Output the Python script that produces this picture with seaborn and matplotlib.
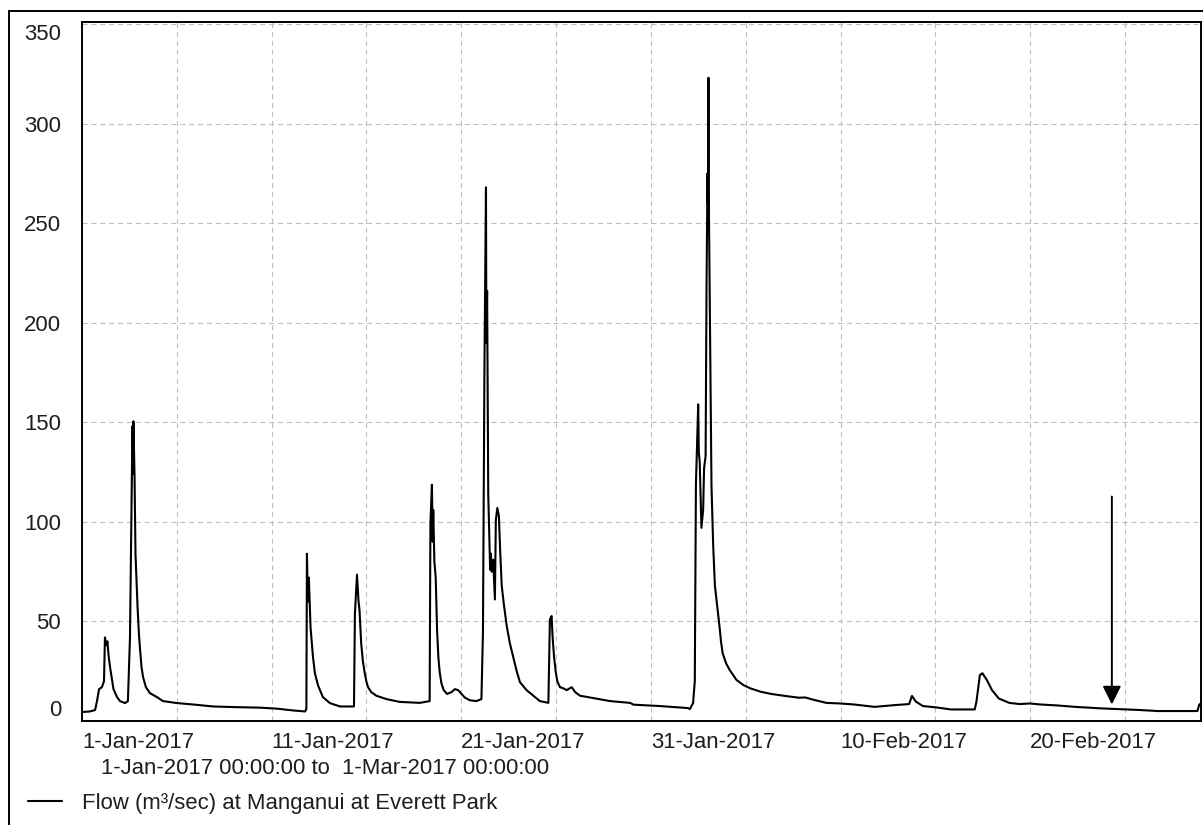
import matplotlib
matplotlib.use("Agg")
import matplotlib.pyplot as plt
import pandas as pd
import seaborn as sns

# ----------------------------
# data (read off the hydrograph)
# ----------------------------
start_date = "2017-01-01 00:00"
end_date = "2017-03-01 00:00"

# days since 1-Jan-2017 00:00
days = [
    0.00, 0.42, 0.69, 0.79, 0.90, 1.05, 1.16, 1.21, 1.29, 1.34, 1.40, 1.48,
    1.58, 1.66, 1.85, 2.00, 2.27, 2.42, 2.53, 2.66, 2.69, 2.71, 2.77, 2.82,
    2.93, 3.00, 3.06, 3.14, 3.22, 3.37, 3.58, 3.95, 4.27, 5.01, 5.85, 6.91,
    7.96, 9.38, 10.28, 11.12, 11.76, 11.83, 11.86, 11.91, 11.96, 12.05, 12.18,
    12.28, 12.44, 12.70, 13.07, 13.60, 14.34, 14.39, 14.50, 14.58, 14.63,
    14.72, 14.81, 14.90, 14.99, 15.08, 15.25, 15.52, 16.05, 16.75, 17.81,
    18.33, 18.37, 18.45, 18.49, 18.52, 18.58, 18.65, 18.72, 18.79, 18.86,
    18.95, 19.07, 19.25, 19.48, 19.66, 19.83, 20.01, 20.18, 20.45, 20.80,
    21.06, 21.14, 21.22, 21.30, 21.32, 21.36, 21.42, 21.48, 21.52, 21.56,
    21.60, 21.68, 21.77, 21.82, 21.90, 21.98, 22.05, 22.13, 22.25, 22.39,
    22.56, 22.74, 22.92, 23.09, 23.44, 23.80, 24.14, 24.59, 24.67, 24.76,
    24.81, 24.89, 24.98, 25.06, 25.20, 25.38, 25.56, 25.82, 26.00, 26.26,
    26.96, 27.84, 28.90, 29.08, 30.47, 31.94, 32.05, 32.22, 32.31, 32.37,
    32.49, 32.52, 32.57, 32.66, 32.75, 32.80, 32.88, 32.93, 32.98, 33.00,
    33.03, 33.06, 33.14, 33.19, 33.28, 33.37, 33.51, 33.63, 33.69, 33.78,
    33.96, 34.15, 34.51, 34.88, 35.24, 35.78, 36.33, 37.06, 37.79, 38.15,
    38.51, 39.25, 39.97, 40.70, 41.79, 42.88, 43.61, 43.76, 43.97, 44.34,
    45.07, 45.80, 47.07, 47.16, 47.34, 47.47, 47.71, 47.98, 48.34, 48.89,
    49.44, 49.98, 50.53, 51.44, 52.35, 53.81, 55.81, 56.72, 58.81, 58.90,
    58.99,
]

# flow, m3/sec
flow = [
    4.5, 4.8, 5.5, 10, 16, 17, 20, 42, 38, 40, 33, 27,
    21, 16, 12, 10, 9, 10, 42, 148, 124, 150.5, 123, 84,
    57, 44, 36, 27, 22, 17, 14, 12, 10, 9, 8.3, 7.3,
    7, 6.7, 6.2, 5.3, 4.8, 6, 84, 60, 72, 47, 32,
    24, 18, 12, 9, 7.3, 7.3, 54, 73.5, 60, 56,
    39, 30, 24.5, 20, 17, 14.5, 12.7, 11, 9.6, 9.1,
    10, 99, 118.7, 90, 106, 80, 72, 46, 32, 24.5,
    19, 15.5, 13.6, 14.5, 16, 15.5, 13.6, 11.8, 10.4, 10,
    11, 44.5, 179, 268, 190, 216, 113.6, 90, 76, 84,
    75, 81, 61, 101, 107, 103, 85, 68, 58, 48,
    39, 32, 25, 19.5, 15.5, 12.7, 10, 9.1, 51, 52.7,
    42.7, 32, 24.5, 20, 17, 16.4, 15.5, 17, 14.5, 12.7,
    11.5, 10, 9.1, 8.2, 7.5, 6.5, 6, 9, 20, 119,
    159, 135, 130, 97, 106, 127, 133, 220, 275, 260,
    323, 251, 170, 118, 88, 68, 56, 46, 40, 34,
    29, 25.6, 20.6, 18, 16.4, 14.7, 13.6, 12.6, 11.7, 11.8,
    10.8, 9.1, 8.8, 8.3, 7.1, 8, 8.5, 12.6, 9.7, 7.5,
    6.8, 5.8, 5.8, 9.7, 23, 24, 20.6, 15.5, 11.3, 9.1,
    8.5, 8.8, 8.3, 7.8, 7.1, 6.3, 5.5, 5, 5, 8,
    9,
]

series_label = "Flow (m\u00b3/sec) at Manganui at Everett Park"
period_label = "1-Jan-2017 00:00:00 to  1-Mar-2017 00:00:00"

# marker arrow (annotation)
arrow_day = 54.3
arrow_top = 112.7
arrow_tip = 8.3

y_ticks = [0, 50, 100, 150, 200, 250, 300, 350]

# ----------------------------
# styling
# ----------------------------
sns.set_style("white")
plt.rcParams["font.family"] = ["Liberation Sans", "DejaVu Sans"]
plt.rcParams["font.size"] = 15.9
text_color = "#1e1e1e"

start = pd.Timestamp(start_date)
end = pd.Timestamp(end_date)
df = pd.DataFrame({
    "time": start + pd.to_timedelta(days, unit="D"),
    "flow": flow,
})

W, H = 1203, 825
fig = plt.figure(figsize=(W / 100, H / 100), dpi=100)
ax = fig.add_axes([82 / W, 1 - 721 / H, (1201 - 82) / W, (721 - 22) / H])

sns.lineplot(data=df, x="time", y="flow", ax=ax, color="black",
             linewidth=1.5, label=series_label, sort=False)

ax.set_xlim(start, end)
ax.set_ylim(0, 351)

# x ticks every 5 days, labels every 10 days
x_ticks = pd.date_range(start, "2017-02-25", freq="5D")
ax.set_xticks(x_ticks)
ax.set_xticklabels(
    [f"{d.day}-{d:%b-%Y}" if i % 2 == 0 else "" for i, d in enumerate(x_ticks)],
    ha="left", color=text_color,
)
ax.set_yticks(y_ticks)
ax.set_yticklabels([str(v) for v in y_ticks], color=text_color)
ylabels = ax.get_yticklabels()
ylabels[0].set_va("bottom")
ylabels[-1].set_va("top")

ax.tick_params(axis="x", length=0, pad=8)
ax.tick_params(axis="y", length=0, pad=15)
ax.set_xlabel("")
ax.set_ylabel("")

ax.grid(True, color="#bdbdbd", linewidth=0.8, linestyle=(0, (4.5, 3.5)))
for s in ax.spines.values():
    s.set_color("black")
    s.set_linewidth(1.4)

# arrow
arrow_time = start + pd.Timedelta(days=arrow_day)
ax.annotate("", xy=(arrow_time, arrow_tip), xytext=(arrow_time, arrow_top),
            arrowprops=dict(arrowstyle="-|>", color="black", lw=1.4,
                            mutation_scale=28, shrinkA=0, shrinkB=0))

# period text under the axis
fig.text(325 / W, 1 - 768 / H, period_label, ha="center", va="center",
         color=text_color)

# legend below
handles, labels = ax.get_legend_handles_labels()
ax.get_legend().remove()
fig.legend(handles, labels, loc="center left",
           bbox_to_anchor=(28 / W, 1 - 803 / H), frameon=False,
           borderpad=0, borderaxespad=0, handlelength=1.55,
           handletextpad=0.9, labelcolor=text_color)

# outer frame (left and top edges)
fig.add_artist(plt.Line2D([9 / W, 9 / W], [0, 1 - 11 / H], color="black",
                          linewidth=1.4, transform=fig.transFigure))
fig.add_artist(plt.Line2D([9 / W, 1], [1 - 11 / H, 1 - 11 / H], color="black",
                          linewidth=1.4, transform=fig.transFigure))

fig.savefig("out.png", dpi=100)
plt.close(fig)
